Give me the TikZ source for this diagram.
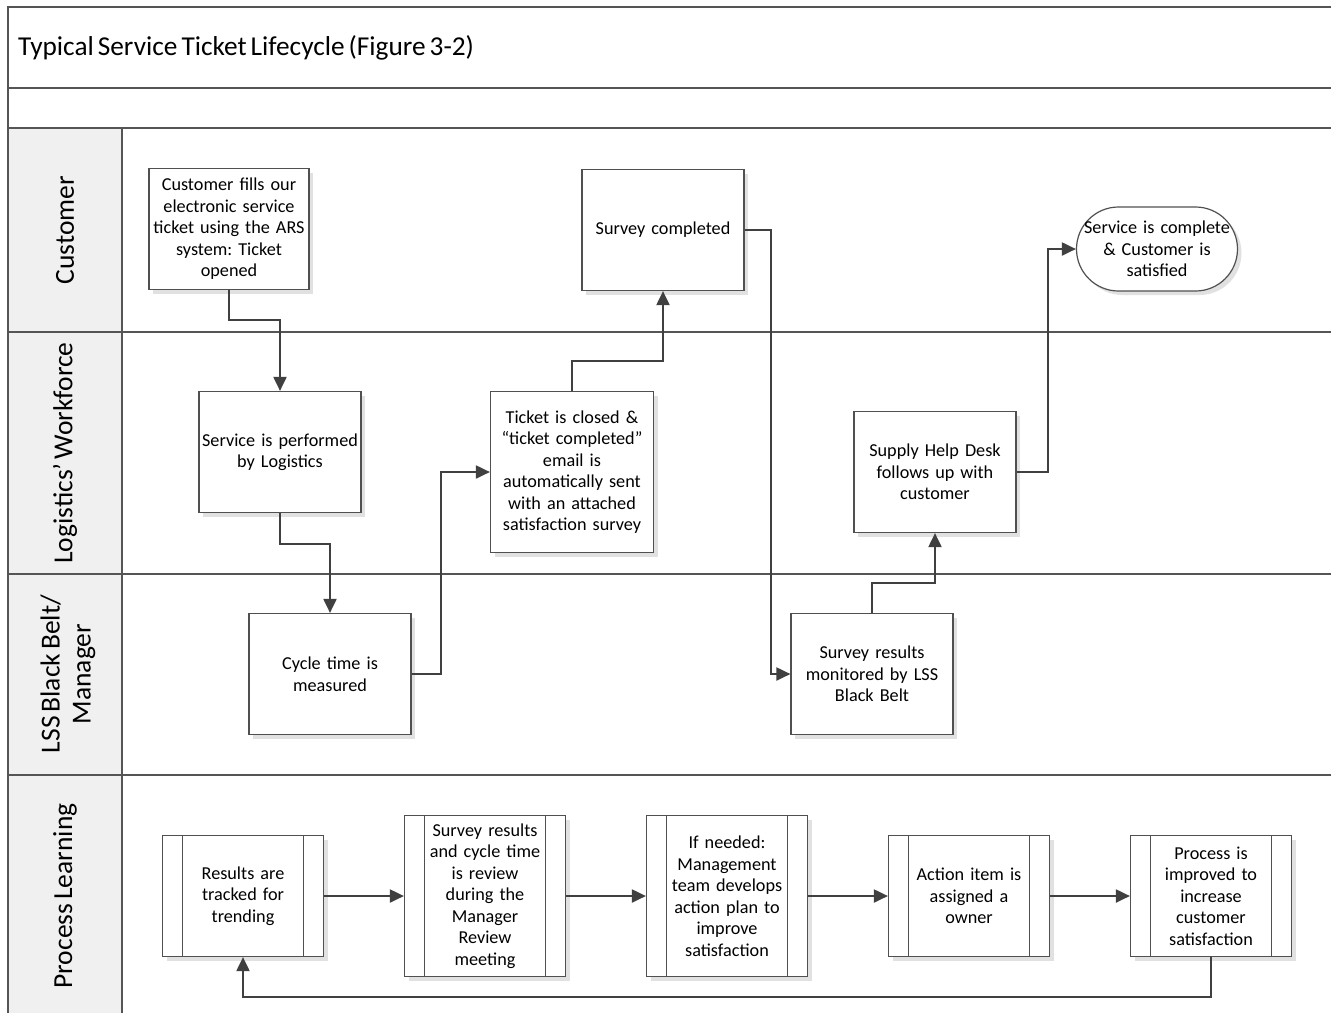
\documentclass[tikz,border=0pt]{standalone}
\usepackage{fontspec}
\setmainfont{Carlito}[WordSpace=0.65]
\frenchspacing
\usetikzlibrary{arrows.meta,shadows}
\definecolor{laneline}{RGB}{85,85,85}
\definecolor{boxline}{RGB}{80,80,80}
\definecolor{connline}{RGB}{64,64,64}
\definecolor{headfill}{RGB}{240,240,240}
\definecolor{shade}{RGB}{225,225,225}
\tikzset{
  lane/.style={draw=laneline, line width=2pt},
  boxtext/.style={font=\fontsize{18.2}{21.5}\selectfont, align=center},
  stepbox/.style={boxtext, draw=boxline, line width=1.2pt, fill=white, inner sep=0pt,
    drop shadow={shadow xshift=4pt, shadow yshift=-4pt, fill=shade, opacity=1},
    minimum width=162pt, minimum height=121pt, text width=160pt},
  pbox/.style={stepbox, minimum width=161pt, text width=120pt,
    path picture={
      \draw[boxline, line width=1.2pt]
        ([xshift=20pt]path picture bounding box.north west) -- ([xshift=20pt]path picture bounding box.south west)
        ([xshift=-20pt]path picture bounding box.north east) -- ([xshift=-20pt]path picture bounding box.south east);
    }},
  endbox/.style={boxtext, draw=boxline, line width=1.2pt, fill=white, inner sep=0pt,
    rounded corners=42pt, minimum width=161pt, minimum height=84pt, text width=158pt,
    drop shadow={shadow xshift=4pt, shadow yshift=-4pt, fill=shade, opacity=1}},
  lanelabel/.style={font=\fontsize{27.5}{31}\selectfont, rotate=90, align=center},
  conn/.style={draw=connline, line width=2pt, -{Triangle[length=14pt,width=13pt]}},
}
\begin{document}
\begin{tikzpicture}[x=1pt,y=-1pt]
\useasboundingbox (0,0) rectangle (1331,1013);
\fill[white] (0,0) rectangle (1331,1013);

% lane header column
\fill[headfill] (8,128) rectangle (122,1013);

% frame and lane dividers
\draw[lane] (8,1013) -- (8,7) -- (1331,7);
\draw[lane] (8,88) -- (1331,88);
\draw[lane] (8,128) -- (1331,128);
\draw[lane] (8,332) -- (1331,332);
\draw[lane] (8,574) -- (1331,574);
\draw[lane] (8,775) -- (1331,775);
\draw[lane] (122,128) -- (122,1013);

% title
\node[anchor=west, inner sep=0pt, font=\fontsize{27.3}{31}\selectfont] (title) at (18,48) {Typical Service Ticket Lifecycle (Figure 3-2)};

% lane labels
\node[lanelabel] (lcust) at (65,230) {Customer};
\node[lanelabel] (llog) at (65,453) {Logistics’ Workforce};
\node[lanelabel] (llss) at (68,674) {LSS Black Belt/\\Manager};
\node[lanelabel] (lpl) at (65,896) {Process Learning};

% process steps
\node[stepbox, minimum width=160pt] (open) at (229,229) {Customer fills our\\electronic service\\ticket using the ARS\\system: Ticket\\opened};
\node[stepbox] (perf) at (280,452) {Service is performed\\by Logistics};
\node[stepbox] (cyc) at (330,674) {Cycle time is\\measured};
\node[stepbox, minimum width=163pt, minimum height=161pt] (tick) at (572,472) {Ticket is closed \&\\“ticket completed”\\email is\\automatically sent\\with an attached\\satisfaction survey};
\node[stepbox] (surv) at (663,230) {Survey completed};
\node[stepbox] (mon) at (872,674) {Survey results\\monitored by LSS\\Black Belt};
\node[stepbox] (help) at (935,472) {Supply Help Desk\\follows up with\\customer};
\node[endbox] (done) at (1157,249) {Service is complete\\\& Customer is\\satisfied};

% process learning steps
\node[pbox] (p1) at (243,896) {Results are\\tracked for\\trending};
\node[pbox, minimum height=161pt] (p2) at (485,896) {Survey results\\and cycle time\\is review\\during the\\Manager\\Review\\meeting};
\node[pbox, minimum height=161pt] (p3) at (727,896) {If needed:\\Management\\team develops\\action plan to\\improve\\satisfaction};
\node[pbox] (p4) at (969,896) {Action item is\\assigned a\\owner};
\node[pbox] (p5) at (1211,896) {Process is\\improved to\\increase\\customer\\satisfaction};

% flow connectors
\draw[conn] (open.south) -- ++(0,30) -| (perf.north);
\draw[conn] (perf.south) -- ++(0,31) -| (cyc.north);
\draw[conn] (cyc.east) -- ++(29,0) |- (tick.west);
\draw[conn] (tick.north) -- ++(0,-30) -| (surv.south);
\draw[conn] (surv.east) -- ++(26,0) |- (mon.west);
\draw[conn] (mon.north) -- ++(0,-30) -| (help.south);
\draw[conn] (help.east) -- ++(31,0) |- (done.west);

\draw[conn] (p1.east) -- (p2.west);
\draw[conn] (p2.east) -- (p3.west);
\draw[conn] (p3.east) -- (p4.west);
\draw[conn] (p4.east) -- (p5.west);
\draw[conn] (p5.south) -- ++(0,40) -| (p1.south);
\end{tikzpicture}
\end{document}
